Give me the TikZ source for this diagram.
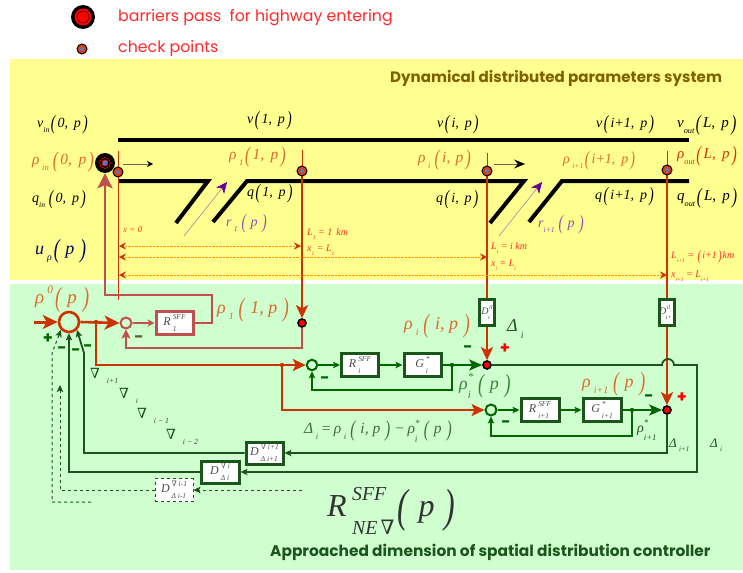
\documentclass[tikz,border=0pt]{standalone}
\usepackage{fontspec}
\usetikzlibrary{arrows.meta,calc}
\setmainfont{Liberation Serif}
\newfontfamily\gothic{Poppins}
\newfontfamily\nablafont{DejaVu Serif}
\definecolor{bgyellow}{HTML}{FFFF90}
\definecolor{bggreen}{HTML}{CFFFCF}
\definecolor{orred}{HTML}{CC3300}
\definecolor{lightor}{HTML}{DB6A30}
\definecolor{rosy}{HTML}{C0504D}
\definecolor{grn}{HTML}{006600}
\definecolor{dgrn}{HTML}{1C551C}
\definecolor{brn}{HTML}{7F6000}
\definecolor{purp}{HTML}{660099}
\definecolor{lbred}{HTML}{FF2A2A}
\definecolor{cpblue}{HTML}{4A80C0}
\definecolor{cpred}{HTML}{E83A10}
\newcommand\lp{\kern.1em\raisebox{-.16em}{\scalebox{1}[1.45]{(}}\kern.15em}
\newcommand\rp{\kern.15em\raisebox{-.16em}{\scalebox{1}[1.45]{)}}\kern.1em}
\newcommand\sbs[1]{\raisebox{-.35em}{\scalebox{.55}{#1}}}
\newcommand\sps[1]{\raisebox{.55em}{\scalebox{.6}{#1}}}
\newcommand\nab{{\nablafont\upshape ∇}}
\newcommand\SSc[2]{\oalign{\raisebox{.5em}{\scalebox{.62}{#1}}\cr\raisebox{-.4em}{\scalebox{.62}{#2}}\cr}}
\newcommand\chkpt[2]{%
  \node[circle,draw=black,line width=1pt,fill=cpred,minimum size=10pt,inner sep=0] (#1) at (#2) {};
  \node[circle,fill=cpblue,minimum size=4pt,inner sep=0] (#1c) at (#2) {};}
\tikzset{
  x=1pt,y=-1pt,
  lab/.style={inner sep=0,anchor=west,font=\itshape\fontsize{14}{16}\selectfont},
  blab/.style={lab,text=black},
  olab/.style={lab,text=lightor},
  rhol/.style={lab,text=lightor,font=\itshape\fontsize{15.5}{17}\selectfont},
  road/.style={line width=4pt,black},
  thickor/.style={line width=2.4pt,orred},
  thinor/.style={line width=1pt,orred},
  rline/.style={line width=2.8pt,rosy},
  gline/.style={line width=1.9pt,grn},
  dline/.style={line width=1.8pt,dgrn},
  dashl/.style={line width=1pt,dgrn,dashed},
  measure/.style={line width=.4pt,orange!80!yellow,densely dotted},
  mdtip/.tip={Stealth[length=7pt,width=6.5pt,inset=1.5pt]},
  ptip/.tip={Stealth[length=11pt,width=10pt,inset=3pt,purp]},
  mtip/.tip={Stealth[length=7pt,width=7pt,inset=2.5pt,orred]},
  ring/.style={circle,draw,fill=bggreen,inner sep=0},
  rdot/.style={circle,draw=black,line width=1.6pt,fill=red,minimum size=8pt,inner sep=0},
  bx/.style={draw,fill=white,inner sep=0,font=\itshape\fontsize{12}{12}\selectfont,text=black!70,anchor=center},
  sign/.style={inner sep=0,font=\bfseries\fontsize{16}{16}\selectfont\gothic},
  gbig/.style={font=\gothic\fontsize{15.8}{18}\selectfont,text=lbred,inner sep=0,anchor=west},
}
\begin{document}
\begin{tikzpicture}
\useasboundingbox (0,0) rectangle (743,572);
\fill[white] (0,0) rectangle (743,572);
\fill[bgyellow] (10,59) rectangle (743,280);
\fill[bggreen] (10,284) rectangle (743,570);

% legend
\node[circle,fill=black,minimum size=24pt,inner sep=0] (lg1) at (83,17) {};
\node[circle,fill=red,minimum size=17pt,inner sep=0] (lg1a) at (83,17) {};
\node[circle,draw=black,line width=.4pt,minimum size=12pt,inner sep=0] (lg1b) at (83,17) {};
\chkpt{lg2}{82,49}
\node[gbig] (lgt1) at (118,17.5) {barriers pass\ \ for highway entering};
\node[gbig] (lgt2) at (118,49) {check points};
\node[inner sep=0,anchor=west,font=\gothic\bfseries\fontsize{15.1}{17}\selectfont,text=brn] (title) at (390,78) {Dynamical distributed parameters system};
\node[inner sep=0,anchor=west,font=\gothic\bfseries\fontsize{15.4}{17}\selectfont,text=dgrn] (title2) at (270,552) {Approached dimension of spatial distribution controller};

% road
\coordinate (rt1) at (118,140); \coordinate (rt2) at (689,140);
\draw[road] (rt1) -- (rt2);
\coordinate (a1) at (118,181); \coordinate (a2) at (208,181); \coordinate (a3) at (176,223);
\coordinate (b1) at (213,222); \coordinate (b2) at (247,181); \coordinate (b3) at (524,181); \coordinate (b4) at (490,223);
\coordinate (c1) at (529,222); \coordinate (c2) at (562,181); \coordinate (c3) at (689,181);
\draw[road,line join=miter] (a1) -- (a2) -- (a3);
\draw[road,line join=miter] (b1) -- (b2) -- (b3) -- (b4);
\draw[road,line join=miter] (c1) -- (c2) -- (c3);

% flow arrows
\coordinate (f1a) at (123,164); \coordinate (f1b) at (153,164);
\draw[line width=.5pt,black!60,-{Stealth[length=6pt,width=6pt,inset=2pt,black]}] (f1a) -- (f1b);
\coordinate (f2a) at (494,164); \coordinate (f2b) at (525,164);
\draw[line width=.5pt,black!60,-{Stealth[length=11pt,width=9pt,inset=4pt,black]}] (f2a) -- (f2b);
\coordinate (f3a) at (184,236); \coordinate (f3b) at (227,182);
\draw[line width=.5pt,purp!60,-ptip] (f3a) -- (f3b);
\coordinate (f4a) at (499,236); \coordinate (f4b) at (542,182);
\draw[line width=.5pt,purp!60,-ptip] (f4a) -- (f4b);

% boxes of the controller
\node[bx,draw=rosy,line width=3pt,minimum width=37pt,minimum height=23pt] (R1) at (174.5,323) {R\,\SSc{SFF}{1}};
\node[bx,draw=dgrn,line width=3pt,minimum width=37pt,minimum height=23pt] (Ri) at (360,365) {R\,\SSc{SFF}{i}};
\node[bx,draw=dgrn,line width=3pt,minimum width=37pt,minimum height=23pt] (Gi) at (422.5,365) {G\,\SSc{*}{i}};
\node[bx,draw=dgrn,line width=3pt,minimum width=38pt,minimum height=23pt] (Rn) at (540,410) {R\,\SSc{SFF}{i+1}};
\node[bx,draw=dgrn,line width=3pt,minimum width=38pt,minimum height=23pt] (Gn) at (602,410) {G\,\SSc{*}{i+1}};
\node[bx,draw=dgrn,line width=3pt,minimum width=15pt,minimum height=26pt,font=\itshape\fontsize{10}{10}\selectfont] (Di) at (487,312) {\makebox[12pt]{D\kern-.5pt\SSc{\,il}{i}}};
\node[bx,draw=dgrn,line width=3pt,minimum width=15pt,minimum height=26pt,font=\itshape\fontsize{10}{10}\selectfont] (Dn) at (667,312) {\makebox[12pt]{D\kern-.5pt\SSc{\,il}{i+1}}};
\node[bx,draw=dgrn,line width=3pt,minimum width=37pt,minimum height=22pt] (D1) at (264.5,453) {D\,\SSc{\nab\ i+1}{Δ i+1}};
\node[bx,draw=dgrn,line width=3pt,minimum width=38pt,minimum height=22pt] (D2) at (220,472) {D\,\SSc{\nab\ i}{Δ i}};
\node[bx,draw=dgrn,line width=1pt,dashed,minimum width=38pt,minimum height=23pt] (D3) at (174,490) {D\,\SSc{\nab\ i-1}{Δ i-1}};

% summing points
\node[ring,draw=orred,line width=2.6pt,minimum size=20pt] (S0) at (69,322) {};
\node[ring,draw=rosy,line width=2pt,minimum size=11pt] (S1) at (126,323) {};
\node[ring,draw=grn,line width=2pt,minimum size=10.5pt] (S2) at (312,365) {};
\node[ring,draw=grn,line width=2pt,minimum size=11pt] (S3) at (491,410) {};
\node[rdot] (E1) at (302,323) {};
\node[rdot] (E2) at (487,365) {};
\node[rdot] (E3) at (667,410) {};

% measurement verticals
\coordinate (v0a) at (118,151); \coordinate (v0b) at (118,300);
\draw[thinor] (v0a) -- (v0b);
\coordinate (v1a) at (302,150); \coordinate (v1b) at (302,172);
\draw[thinor] (v1a) -- (v1b);
\draw[thickor,-{Stealth[length=13pt,width=12pt,inset=3pt]}] (v1b) -- (E1.north);
\coordinate (v2a) at (487,153); \coordinate (v2b) at (487,172);
\draw[thinor] (v2a) -- (v2b);
\draw[thickor] (v2b) -- (Di.north);
\draw[thickor,-{Stealth[length=13pt,width=12pt,inset=3pt]}] (Di.south) -- (E2.north);
\coordinate (v3a) at (667,151); \coordinate (v3b) at (667,171);
\draw[thinor] (v3a) -- (v3b);
\draw[thickor] (v3b) -- (Dn.north);
\draw[thickor,-{Stealth[length=13pt,width=12pt,inset=3pt]}] (Dn.south) -- (E3.north);

% measure lines
\coordinate (m1a) at (119,246); \coordinate (m1b) at (301,246);
\coordinate (m2a) at (119,257); \coordinate (m2b) at (487,257);
\coordinate (m3a) at (119,275); \coordinate (m3b) at (667,275);
\draw[measure,mtip-mtip] (m1a) -- (m1b);
\draw[measure,mtip-mtip] (m2a) -- (m2b);
\draw[measure,mtip-mtip] (m3a) -- (m3b);

% barrier and check points
\node[circle,fill=black,minimum size=20pt,inner sep=0] (B) at (105,163) {};
\node[circle,draw=red,line width=.6pt,minimum size=11pt,inner sep=0] (Ba) at (105,163) {};
\node[circle,draw=red,line width=.6pt,fill=cpblue,minimum size=6pt,inner sep=0] (Bb) at (105,163) {};
\chkpt{cp0}{118,172}
\chkpt{cp1}{302,171}
\chkpt{cp2}{487,171}
\chkpt{cp3}{667,170}

% rose loop
\coordinate (q1) at (212,323); \coordinate (q2) at (212,295); \coordinate (q3) at (105,295);
\draw[rline,-{Stealth[length=15pt,width=15pt,inset=3pt]},line join=miter] (R1.east) -- (q1) -- (q2) -- (q3) -- (B.south);
\coordinate (q4) at (302,348); \coordinate (q5) at (126,348);
\draw[rline,line join=miter,-{Stealth[length=9pt,width=9pt,inset=2pt]}] (E1.south) -- (q4) -- (q5) -- (S1.south);
\draw[line width=1.5pt,rosy,-{Stealth[length=7pt,width=7pt,inset=2pt]}] (S1.east) -- (R1.west);

% orange feed
\coordinate (in) at (34,322);
\draw[line width=3pt,orred,-{Stealth[length=15pt,width=14pt,inset=4pt]}] (in) -- (S0.west);
\draw[line width=2.6pt,orred,-{Stealth[length=15pt,width=14pt,inset=4pt]}] (S0.east) -- (S1.west);
\coordinate (j1) at (96,322); \coordinate (j2) at (96,365); \coordinate (j3) at (282,365); \coordinate (j4) at (282,410);
\fill[orred] (j1) circle (2.2pt) (j3) circle (2.2pt);
\draw[thickor,line join=miter,-{Stealth[length=13pt,width=12pt,inset=3pt]}] (j1) -- (j2) -- (S2.west);
\draw[thickor,line join=miter,-{Stealth[length=13pt,width=12pt,inset=3pt]}] (j3) -- (j4) -- (S3.west);

% green loops
\draw[gline,-mdtip] (S2.east) -- (Ri.west);
\draw[gline,-mdtip] (Ri.east) -- (Gi.west);
\draw[line width=2.2pt,grn,-{Stealth[length=13pt,width=11pt,inset=3pt]}] (Gi.east) -- (E2.west);
\coordinate (k1) at (452,365); \coordinate (k2) at (452,390); \coordinate (k3) at (312,390);
\fill[grn] (k1) circle (2.2pt);
\draw[gline,line join=miter,-mdtip] (k1) -- (k2) -- (k3) -- (S2.south);
\draw[gline,-mdtip] (S3.east) -- (Rn.west);
\draw[gline,-mdtip] (Rn.east) -- (Gn.west);
\draw[line width=2.2pt,grn,-{Stealth[length=13pt,width=11pt,inset=3pt]}] (Gn.east) -- (E3.west);
\coordinate (k4) at (632,410); \coordinate (k5) at (632,436); \coordinate (k6) at (491,436);
\fill[grn] (k4) circle (2.2pt);
\draw[gline,line join=miter,-mdtip] (k4) -- (k5) -- (k6) -- (S3.south);

% error return lines
\coordinate (h1) at (662,365); \coordinate (h2) at (697,365); \coordinate (h3) at (697,472);
\coordinate (h4) at (69,472);
\draw[dline,line join=miter,-mdtip] (E2.east) -- (h1) arc[start angle=180,end angle=360,radius=6] -- (h2) -- (h3) -- (D2.east);
\draw[dline,line join=miter,-mdtip] (D2.west) -- (h4) -- (S0.south);
\coordinate (h5) at (667,453); \coordinate (h6) at (84,453); \coordinate (h7) at (84,353);
\draw[dline,line join=miter,-mdtip] (E3.south) -- (h5) -- (D1.east);
\draw[dline,line join=miter,-mdtip] (D1.west) -- (h6) -- (h7) -- (S0.south east);
\coordinate (d1) at (302,490); \coordinate (d2) at (60,490); \coordinate (d3) at (60,385);
\draw[dashl,-mdtip] (d1) -- (D3.east);
\draw[dashl,-mdtip] (D3.west) -- (d2) -- (d3);
\coordinate (d4) at (91,502); \coordinate (d5) at (52,502); \coordinate (d6) at (52,353);
\draw[dashl,-mdtip] (d4) -- (d5) -- (d6) -- (S0.south west);

% labels, road
\node[blab] (t1) at (37,125) {v\sbs{in}\lp 0,\, p\rp};
\node[rhol] (t2) at (32,162) {ρ\,\sbs{in}\,\lp 0,\, p\rp};
\node[blab] (t3) at (32,200) {q\sbs{in}\,\lp 0,\, p\rp};
\node[lab,text=blue!40!black,font=\itshape\fontsize{18}{20}\selectfont] (t4) at (35,251) {u\,\sbs{ρ}\lp\,p\,\rp};
\node[blab] (t5) at (247,121) {v\lp 1,\, p\rp};
\node[rhol] (t6) at (229,157) {ρ\,\sbs{1}\lp 1,\, p\rp};
\node[blab] (t7) at (247,194) {q\lp 1,\, p\rp};
\node[lab,text=purp!70] (t8) at (226,224) {r\,\sbs{1}\,\lp\,p\,\rp};
\node[lab,text=lbred!80!orange,font=\itshape\fontsize{9}{10}\selectfont] (t9) at (123,230) {x = 0};
\node[lab,text=lbred,font=\itshape\fontsize{10}{10}\selectfont] (t10) at (307,234) {L\sbs{1} = 1\, km};
\node[lab,text=lbred,font=\itshape\fontsize{10}{10}\selectfont] (t11) at (307,250) {x\sbs{1} = L\sbs{1}};
\node[blab] (t12) at (437,125) {v\lp i,\, p\rp};
\node[rhol] (t13) at (418,160) {ρ\,\sbs{i}\,\lp i,\,\,p\rp};
\node[blab] (t14) at (436,200) {q\lp i,\, p\rp};
\node[lab,text=purp!70] (t15) at (538,225) {r\sbs{i+1}\,\lp\,p\,\rp};
\node[lab,text=lbred,font=\itshape\fontsize{10}{10}\selectfont] (t16) at (491,248) {L\sbs{i} = i km};
\node[lab,text=lbred,font=\itshape\fontsize{10}{10}\selectfont] (t17) at (491,265) {x\sbs{i} = L\sbs{i}};
\node[blab] (t18) at (596,125) {v\lp i+1,\, p\rp};
\node[olab] (t19) at (563,161) {ρ\,\sbs{i+1}\lp i+1,\, p\rp};
\node[blab] (t20) at (595,197) {q\lp i+1,\, p\rp};
\node[lab,text=black,font=\itshape\fontsize{15}{16}\selectfont] (t21) at (677,125) {v\sbs{out}\lp L,\, p\rp};
\node[lab,text=orred!70!lbred,font=\itshape\fontsize{15}{16}\selectfont] (t22) at (677,156) {ρ\sbs{out}\lp L,\, p\rp};
\node[lab,text=black,font=\itshape\fontsize{15}{16}\selectfont] (t23) at (677,198) {q\sbs{out}\lp L,\, p\rp};
\node[lab,text=lbred,font=\itshape\fontsize{10}{10}\selectfont] (t24) at (671,257) {L\sbs{i+1} = \lp i+1\rp km};
\node[lab,text=lbred,font=\itshape\fontsize{10}{10}\selectfont] (t25) at (671,276) {x\sbs{i+1} = L\sbs{i+1}};

% labels, controller
\node[olab,font=\itshape\fontsize{19}{22}\selectfont] (u1) at (35,299) {ρ\,\sps{0}\lp\,p\,\rp};
\node[olab,font=\itshape\fontsize{18}{20}\selectfont] (u2) at (217,310) {ρ\,\sbs{1}\,\lp\,1, p\,\rp};
\node[olab,font=\itshape\fontsize{18}{20}\selectfont] (u3) at (404,326) {ρ\,\sbs{i}\,\lp\,i, p\,\rp};
\node[lab,text=dgrn,font=\itshape\fontsize{18}{20}\selectfont] (u4) at (507,329) {Δ\,\sbs{i}};
\node[lab,text=grn!80,font=\itshape\fontsize{18}{20}\selectfont] (u5) at (459,386) {ρ\SSc{*}{i}\,\lp\,p\,\rp};
\node[olab,font=\itshape\fontsize{18}{20}\selectfont] (u6) at (582,384) {ρ\,\sbs{i+1}\,\lp\,p\,\rp};
\node[lab,text=dgrn!85,font=\itshape\fontsize{15.5}{17}\selectfont] (u7) at (304,431) {Δ\,\sbs{i}\,=\,ρ\,\sbs{i}\,\lp\,i, p\,\rp\,−\,ρ\SSc{*}{i}\,\lp\,p\,\rp};
\node[lab,text=dgrn,font=\itshape\fontsize{14}{15}\selectfont] (u8) at (637,430) {ρ\SSc{*}{i+1}};
\node[lab,text=dgrn,font=\itshape\fontsize{13}{13}\selectfont] (u9) at (669,445) {Δ\,\sbs{i+1}};
\node[lab,text=dgrn,font=\itshape\fontsize{13}{13}\selectfont] (u10) at (710,445) {Δ\,\sbs{i}};
\node[lab,text=dgrn,font=\itshape\fontsize{14}{14}\selectfont] (n1) at (90,376) {\nab\ \ \sbs{i+1}};
\node[lab,text=dgrn,font=\itshape\fontsize{14}{14}\selectfont] (n2) at (119,396) {\nab\ \ \sbs{i}};
\node[lab,text=dgrn,font=\itshape\fontsize{14}{14}\selectfont] (n3) at (137,416) {\nab\ \ \sbs{i − 1}};
\node[lab,text=dgrn,font=\itshape\fontsize{14}{14}\selectfont] (n4) at (166,437) {\nab\ \ \sbs{i − 2}};
\node[lab,text=black!80,font=\itshape\fontsize{32}{34}\selectfont] (u11) at (327,511) {R\,\SSc{SFF}{NE\,\nab}\lp\,p\,\rp};

% signs
\node[sign,text=grn] (g1) at (48,339) {+};
\node[sign,text=grn] (g2) at (62,350) {-};
\node[sign,text=grn] (g3) at (76,352) {-};
\node[sign,text=grn] (g4) at (88,348) {-};
\node[sign,text=rosy!50!grn] (g5) at (139,339) {-};
\node[sign,text=grn] (g6) at (325,380) {-};
\node[sign,text=grn] (g7) at (468,349) {-};
\node[sign,text=red] (g8) at (505,349) {+};
\node[sign,text=grn] (g9) at (506,424) {-};
\node[sign,text=grn] (g10) at (649,398) {-};
\node[sign,text=red] (g11) at (682,398) {+};
\end{tikzpicture}
\end{document}
